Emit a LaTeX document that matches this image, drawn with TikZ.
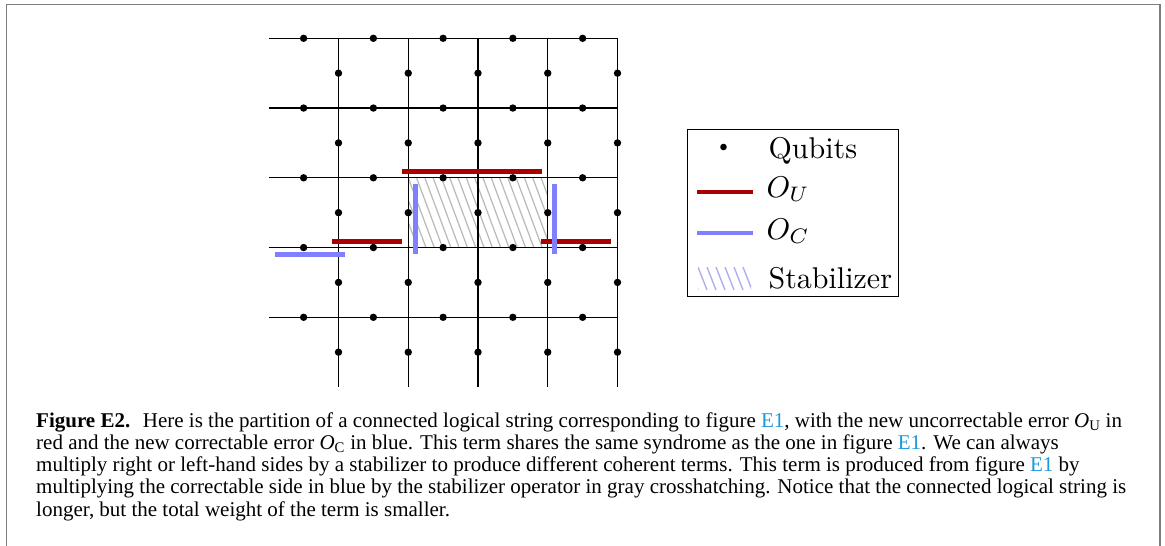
\documentclass[tikz,border=0pt]{standalone}
\usepackage{fontspec}
\newfontfamily\capfont{Liberation Serif}
\definecolor{ured}{RGB}{170,0,0}
\definecolor{ublue}{RGB}{128,128,255}
\definecolor{linkblue}{RGB}{28,150,220}
\definecolor{framegray}{RGB}{125,125,125}
\definecolor{hatchgray}{RGB}{185,185,185}
\definecolor{hatchblue}{RGB}{175,175,240}
\newcommand{\Ecap}{\textcolor{linkblue}{E1}}
\newcommand{\Osub}[1]{\textit{O}\textsubscript{#1}}
\begin{document}
\begin{tikzpicture}[x=1pt,y=-1pt,
  gridline/.style={line width=1.3pt,black},
  uerr/.style={ured,line width=4.7pt},
  cerr/.style={ublue,line width=4.7pt},
  hatchline/.style={hatchgray,line width=1.2pt},
  capline/.style={anchor=base west,inner sep=0pt,font=\capfont\fontsize{21}{24}\selectfont},
  legtext/.style={anchor=base west,inner sep=0pt,scale=3}]
\useasboundingbox (0,0) rectangle (1165,546);
\fill[white] (0,0) rectangle (1165,546);
% frame
\draw[framegray,line width=1.5pt] (6.7,546) -- (6.7,4.3) -- (1160,4.3) -- (1160,546);
\def\s{69.75}
% stabilizer hatching
\begin{scope}
  \clip (408.25,177.8) rectangle (547.75,247.55);
  \foreach \k in {-4,...,17} \draw[hatchline] ({408.25+\k*8.3},177.8) -- ++(26,69.75);
\end{scope}
% lattice
\foreach \j in {0,...,4} \draw[gridline] (268.75,{38.3+\j*\s}) -- (617.5,{38.3+\j*\s});
\foreach \i in {0,...,4} \draw[gridline] ({338.5+\i*\s},38.3) -- ({338.5+\i*\s},387);
% qubits
\foreach \i in {0,...,4} \foreach \j in {0,...,4} {
  \fill ({268.75+(\i+0.5)*\s},{38.3+\j*\s}) circle (3.7);
  \fill ({338.5+\i*\s},{38.3+(\j+0.5)*\s}) circle (3.7);
}
% uncorrectable error (red)
\draw[uerr] (402,171.3) -- (542,171.3);
\draw[uerr] (332,241.3) -- (402,241.3);
\draw[uerr] (541,241.3) -- (611,241.3);
% correctable error (blue)
\draw[cerr] (275,254.3) -- (345,254.3);
\draw[cerr] (415.3,184) -- (415.3,254.3);
\draw[cerr] (554.3,184) -- (554.3,254.3);
% legend
\draw[line width=1.3pt] (687.3,129.3) rectangle (898.3,296.7);
\fill (723.5,147) circle (3.3);
\node[legtext] (lq) at (768,158.3) {Qubits};
\draw[uerr,line width=4.3pt] (697,192) -- (753,192);
\node[legtext] (lu) at (766,197.3) {$O_U$};
\draw[cerr,line width=4.3pt] (697,233) -- (753,233);
\node[legtext] (lc) at (766,239) {$O_C$};
\begin{scope}
  \clip (698,267) rectangle (751,290);
  \foreach \k in {-3,...,6} \draw[hatchblue,line width=1.4pt] ({698+\k*9},267) -- ++(9,23);
\end{scope}
\node[legtext] (ls) at (768,288.3) {Stabilizer};
% caption
\node[capline] (c1) at (36,427) {\textbf{Figure E2.}\hspace{0.6em}Here is the partition of a connected logical string corresponding to figure \Ecap, with the new uncorrectable error \Osub{U} in};
\node[capline] (c2) at (36,449.3) {red and the new correctable error \Osub{C} in blue. This term shares the same syndrome as the one in figure \Ecap. We can always};
\node[capline] (c3) at (36,471.6) {multiply right or left-hand sides by a stabilizer to produce different coherent terms. This term is produced from figure \Ecap{} by};
\node[capline] (c4) at (36,493.9) {multiplying the correctable side in blue by the stabilizer operator in gray crosshatching. Notice that the connected logical string is};
\node[capline] (c5) at (36,516.2) {longer, but the total weight of the term is smaller.};
\end{tikzpicture}
\end{document}
